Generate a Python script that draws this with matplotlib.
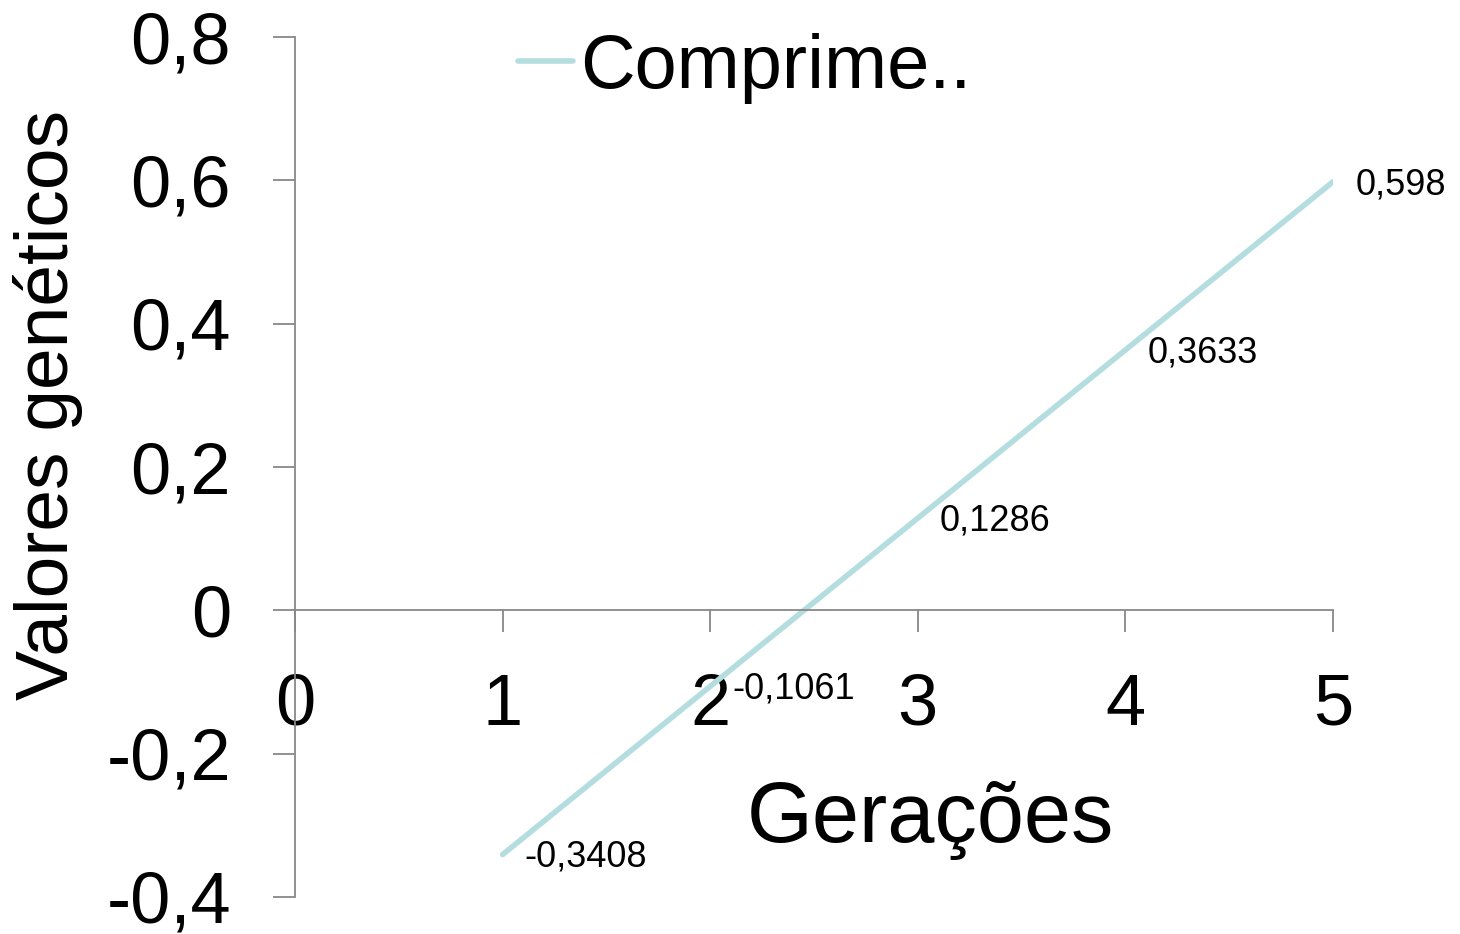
import numpy as np
import matplotlib
matplotlib.use("Agg")
import matplotlib.pyplot as plt

plt.rcParams['font.family'] = ['Liberation Sans', 'DejaVu Sans']

# data
geracoes = [1, 2, 3, 4, 5]
valores = [-0.3408, -0.1061, 0.1286, 0.3633, 0.598]
rotulos = ["-0,3408", "-0,1061", "0,1286", "0,3633", "0,598"]
x_ticks = [0, 1, 2, 3, 4, 5]
y_ticks = [-0.4, -0.2, 0, 0.2, 0.4, 0.6, 0.8]
y_tick_labels = ["-0,4", "-0,2", "0", "0,2", "0,4", "0,6", "0,8"]

fig = plt.figure(figsize=(14.6, 9.34), dpi=100)
ax = fig.add_axes([295/1460, 1-897/934, 1038/1460, 860/934])

ax.plot(geracoes, valores, color="#b4dde0", lw=4, solid_capstyle="round", label="Comprime..")

for x, y, t in zip(geracoes, valores, rotulos):
    ax.annotate(t, (x, y), xytext=(16, -2), textcoords="offset points",
                va="center", ha="left", fontsize=26)

ax.set_xlim(0, 5)
ax.set_ylim(-0.4, 0.8)

# spines: y axis at x=0, x axis at y=0
for s in ["top", "right"]:
    ax.spines[s].set_visible(False)
ax.spines["left"].set_position(("data", 0))
ax.spines["bottom"].set_position(("data", 0))
ax.spines["left"].set_color("#888888")
ax.spines["bottom"].set_color("#888888")
ax.spines["left"].set_linewidth(1.3)
ax.spines["bottom"].set_linewidth(1.3)

ax.set_xticks(x_ticks)
ax.set_xticklabels([str(v) for v in x_ticks])
ax.set_yticks(y_ticks)
ax.set_yticklabels(y_tick_labels)
ax.tick_params(axis="x", direction="out", length=16, width=1.3, color="#888888",
               labelsize=52, pad=29)
ax.tick_params(axis="y", direction="out", length=16, width=1.3, color="#888888",
               labelsize=52, pad=30)

ax.set_xlabel("Gerações", fontsize=61, va="center")
ax.xaxis.set_label_coords(0.612, 0.089)
ax.set_ylabel("Valores genéticos", fontsize=54, va="center")
ax.yaxis.set_label_coords(-0.238, 0.572)

ax.legend(loc="upper left", bbox_to_anchor=(0.186, 1.04), frameon=False,
          fontsize=54.5, handlelength=0.72, handletextpad=0.1, borderaxespad=0)

fig.savefig("out.png", dpi=100)
